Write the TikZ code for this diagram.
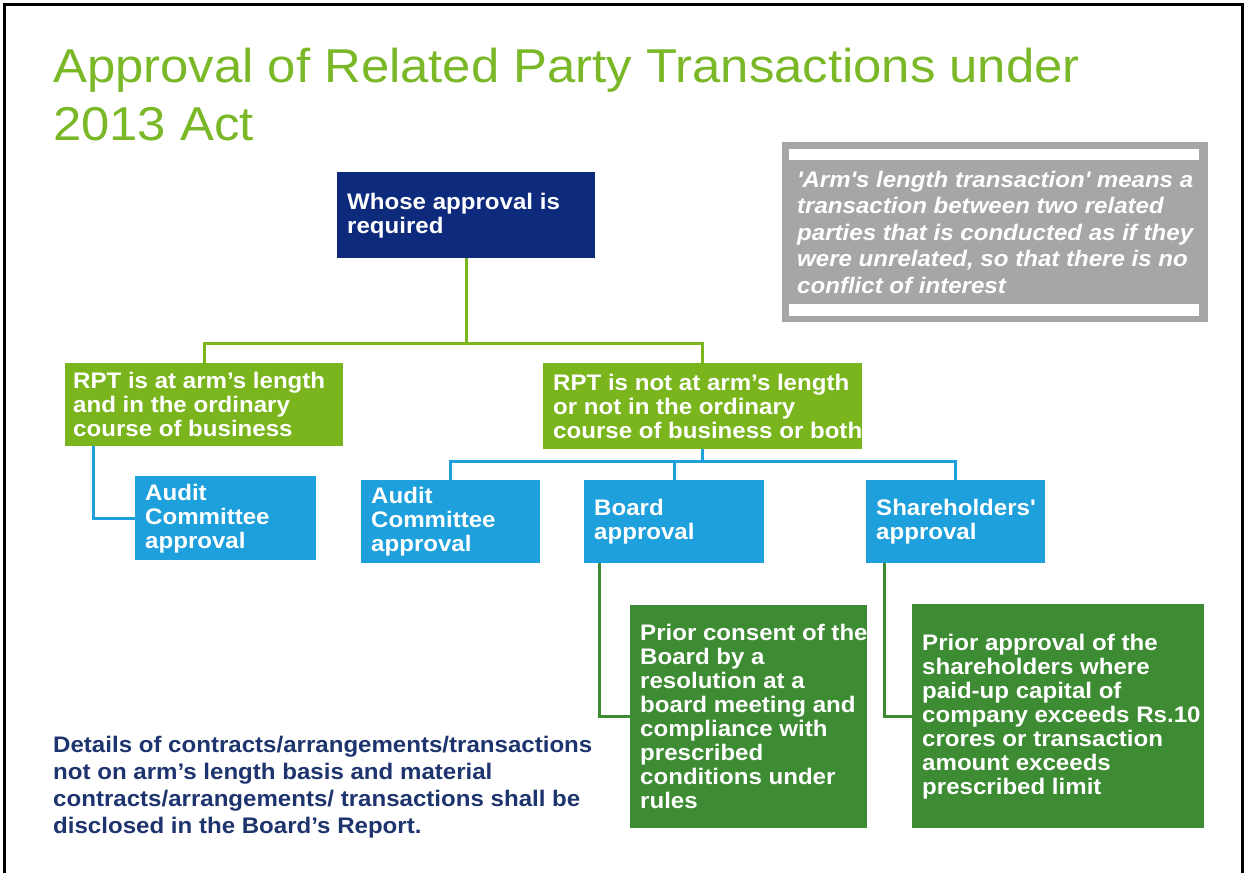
\documentclass[tikz,border=0pt]{standalone}
\usepackage{fontspec}
\setmainfont{Liberation Sans}[FakeStretch=1.07]
\definecolor{titlegreen}{RGB}{122,184,40}
\definecolor{leafgreen}{RGB}{122,181,29}
\definecolor{navybox}{RGB}{14,42,125}
\definecolor{greybox}{RGB}{166,166,166}
\definecolor{skyblue}{RGB}{29,160,220}
\definecolor{forest}{RGB}{61,139,50}
\definecolor{notenavy}{RGB}{30,52,110}
\begin{document}
\begin{tikzpicture}[x=1pt,y=-1pt,
  box/.style={rectangle, draw=none, anchor=north west, inner sep=0pt},
  boxtext/.style={anchor=west, align=left, inner sep=0pt, text=white,
    font=\bfseries\fontsize{22.5}{24}\selectfont},
  greenlink/.style={draw=leafgreen, line width=3pt},
  bluelink/.style={draw=skyblue, line width=3pt},
  forestlink/.style={draw=forest, line width=3pt}]
\useasboundingbox (0,0) rectangle (1246,873);
\fill[white] (0,0) rectangle (1246,873);

% frame (open at the bottom)
\draw[line width=3pt] (4.5,873) -- (4.5,4.2) -- (1242.5,4.2) -- (1242.5,873);

% title
\node[anchor=base west, inner sep=0pt, text=titlegreen, font=\fontsize{47.5}{58}\selectfont] (title1) at (53,82) {Approval of Related Party Transactions under};
\node[anchor=base west, inner sep=0pt, text=titlegreen, font=\fontsize{47.5}{58}\selectfont] (title2) at (53,140) {2013 Act};

% root
\node[box, fill=navybox, minimum width=258pt, minimum height=86pt] (whose) at (337,172) {};
\node[boxtext, xshift=10pt] (whoset) at (whose.west) {Whose approval is\\required};

% definition panel
\node[box, fill=greybox, minimum width=426pt, minimum height=180pt] (defn) at (782,142) {};
\fill[white] (789,149) rectangle (1199,160);
\fill[white] (789,304) rectangle (1199,316);
\node[boxtext, xshift=15pt, font=\bfseries\itshape\fontsize{22.5}{26.5}\selectfont] (defnt) at (defn.west)
  {\textquotesingle Arm\textquotesingle s length transaction\textquotesingle\ means a\\transaction between two related\\parties that is conducted as if they\\were unrelated, so that there is no\\conflict of interest};

% second level
\node[box, fill=leafgreen, minimum width=278pt, minimum height=83pt] (arm) at (65,363) {};
\node[boxtext, xshift=8pt] (armt) at (arm.west) {RPT is at arm’s length\\and in the ordinary\\course of business};
\node[box, fill=leafgreen, minimum width=319pt, minimum height=86pt] (notarm) at (543,363) {};
\node[boxtext, xshift=10pt] (notarmt) at (notarm.west) {RPT is not at arm’s length\\or not in the ordinary\\course of business or both};

% approvals
\node[box, fill=skyblue, minimum width=181pt, minimum height=84pt] (ac1) at (135,476) {};
\node[boxtext, xshift=10pt] (ac1t) at (ac1.west) {Audit\\Committee\\approval};
\node[box, fill=skyblue, minimum width=179pt, minimum height=83pt] (ac2) at (361,480) {};
\node[boxtext, xshift=10pt] (ac2t) at (ac2.west) {Audit\\Committee\\approval};
\node[box, fill=skyblue, minimum width=180pt, minimum height=83pt] (board) at (584,480) {};
\node[boxtext, xshift=10pt] (boardt) at (board.west) {Board\\approval};
\node[box, fill=skyblue, minimum width=179pt, minimum height=83pt] (share) at (866,480) {};
\node[boxtext, xshift=10pt] (sharet) at (share.west) {Shareholders\textquotesingle\\approval};

% conditions
\node[box, fill=forest, minimum width=237pt, minimum height=223pt] (cond1) at (630,605) {};
\node[boxtext, xshift=10pt] (cond1t) at (cond1.west) {Prior consent of the\\Board by a\\resolution at a\\board meeting and\\compliance with\\prescribed\\conditions under\\rules};
\node[box, fill=forest, minimum width=292pt, minimum height=224pt] (cond2) at (912,604) {};
\node[boxtext, xshift=10pt] (cond2t) at (cond2.west) {Prior approval of the\\shareholders where\\paid-up capital of\\company exceeds Rs.10\\crores or transaction\\amount exceeds\\prescribed limit};

% disclosure note
\node[anchor=north west, align=left, inner sep=0pt, text=notenavy,
  font=\bfseries\fontsize{22.5}{27}\selectfont] (note) at (53,736)
  {Details of contracts/arrangements/transactions\\not on arm’s length basis and material\\contracts/arrangements/ transactions shall be\\disclosed in the Board’s Report.};

% connectors
\draw[greenlink] (whose.south) -- (whose.south |- 0,343);
\draw[greenlink] (arm.north) -- (arm.north |- 0,343) -- (notarm.north |- 0,343) -- (notarm.north);
\draw[bluelink] (notarm.south) -- (notarm.south |- 0,461);
\draw[bluelink] (ac2.north) -- (ac2.north |- 0,461) -- (share.north |- 0,461) -- (share.north);
\draw[bluelink] (board.north) -- (board.north |- 0,461);
\draw[bluelink] (arm.south -| 93,0) |- (ac1.west);
\draw[forestlink] (board.south -| 599,0) |- (cond1.west);
\draw[forestlink] (share.south -| 884,0) |- (cond2.west);
\end{tikzpicture}
\end{document}
